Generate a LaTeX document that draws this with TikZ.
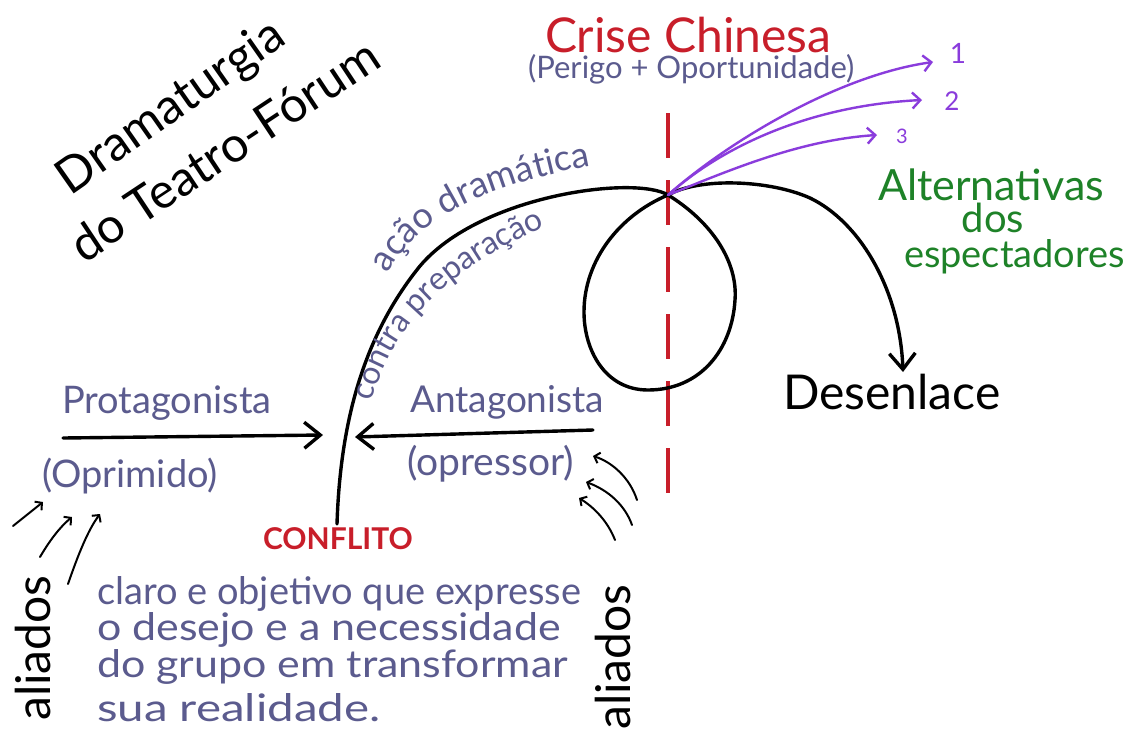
\documentclass[tikz,border=0pt]{standalone}
\usepackage{fontspec}
\setmainfont{Lato}
\usetikzlibrary{arrows.meta,decorations.text}
\definecolor{inkblue}{HTML}{5B5B8E}
\definecolor{crisered}{HTML}{C81E2A}
\definecolor{altgreen}{HTML}{1E8228}
\definecolor{altviolet}{HTML}{8A3CDC}
\newcommand{\fsz}[1]{\fontsize{#1}{#1}\selectfont}
\begin{document}
\begin{tikzpicture}[x=1pt,y=-1pt,
  every node/.style={inner sep=0pt, outer sep=0pt},
  ink/.style={text=inkblue},
  titletext/.style={text=black, font=\fsz{49}},
  bline/.style={line width=3.4pt, black, line cap=round, line join=round},
  bigbarb/.style={-{Straight Barb[length=16pt,width=26pt]}},
  vio/.style={line width=2.4pt, altviolet, line cap=round, -{Straight Barb[length=8pt,width=16pt]}},
  ally/.style={line width=2pt, black, line cap=round, -{Straight Barb[length=5pt,width=11pt]}}]
\useasboundingbox (0,0) rectangle (1125,729);
\fill[white] (0,0) rectangle (1125,729);

% title
\node[titletext, rotate=35, anchor=base west] (t1) at (70,196) {Dramaturgia};
\node[titletext, rotate=33.5, anchor=base west] (t2) at (84,264) {do Teatro-Fórum};

% crisis
\node[text=crisered, font=\fsz{48}, anchor=base west] (crise) at (545,52) {Crise Chinesa};
\node[ink, font=\fsz{31}, anchor=base west] (perigo) at (528,78) {(Perigo + Oportunidade)};

% red dashed line
\coordinate (rtop) at (668,113);
\coordinate (rbot) at (668,502);
\coordinate (X) at (668,195);
\draw[crisered, line width=3.5pt, dash pattern=on 45pt off 22pt] (rtop) -- (rbot);

% main curve
\coordinate (conf) at (337,524);
\coordinate (tipD) at (903,372);
\draw[bline, bigbarb] (conf) .. controls (340,430) and (360,340) .. (420,266)
   .. controls (480,195) and (635,175) .. (X)
   .. controls (712,222) and (738,262) .. (735,300)
   .. controls (732,350) and (700,390) .. (648,390)
   .. controls (605,390) and (584,350) .. (584,312)
   .. controls (584,260) and (620,215) .. (X)
   .. controls (700,177) and (770,180) .. (810,198)
   .. controls (860,222) and (900,290) .. (tipD);

% labels along the curve
\path[decorate, decoration={text along path, text={|\fsz{36}\color{inkblue}|ação dramática}}]
  (388,274) .. controls (417,218) and (492,174) .. (672,154);
\path[decorate, decoration={text along path, text={|\fsz{32}\color{inkblue}|contra preparação}}]
  (372,402) .. controls (390,330) and (445,258) .. (600,206);

% alternatives
\node[text=altviolet, font=\fsz{28}, anchor=base] (n1) at (958,63) {1};
\node[text=altviolet, font=\fsz{26}, anchor=base] (n2) at (952,110) {2};
\node[text=altviolet, font=\fsz{20}, anchor=base] (n3) at (902,143) {3};
\coordinate (a1) at (933,62);
\coordinate (a2) at (922,100);
\coordinate (a3) at (877,135);
\draw[vio] (X) .. controls (730,140) and (840,75) .. (a1);
\draw[vio] (X) .. controls (730,140) and (820,105) .. (a2);
\draw[vio] (X) .. controls (730,170) and (800,140) .. (a3);

\node[text=altgreen, font=\fsz{43}, anchor=base west] (alt) at (878,200) {Alternativas};
\node[text=altgreen, font=\fsz{40}, anchor=base] (dos) at (993,232) {dos};
\node[text=altgreen, font=\fsz{38}, anchor=base west] (esp) at (904,267) {espectadores};

\node[font=\fsz{48}, anchor=base west] (desen) at (783,409) {Desenlace};

% protagonist / antagonist
\node[ink, font=\fsz{38}, anchor=base west] (prot) at (62,413) {Protagonista};
\node[ink, font=\fsz{38}, anchor=base west] (oprim) at (42,487) {(Oprimido)};
\node[ink, font=\fsz{37}, anchor=base west] (antag) at (410,412) {Antagonista};
\node[ink, font=\fsz{39}, anchor=base west] (opress) at (407,475) {(opressor)};
\coordinate (ps) at (63,438);
\coordinate (pe) at (323,435);
\coordinate (as) at (593,430);
\coordinate (ae) at (355,437);
\draw[bline, bigbarb] (ps) -- (pe);
\draw[bline, bigbarb] (as) -- (ae);

% conflict
\node[text=crisered, font=\fsz{30}\bfseries, anchor=base west] (confl) at (263,549) {CONFLITO};
\node[ink, font=\fsz{38}, anchor=base west] (l1) at (97,604) {claro e objetivo que expresse};
\node[ink, font=\fsz{38}, anchor=base west, xscale=1.13] (l2) at (97,640) {o desejo e a necessidade};
\node[ink, font=\fsz{38}, anchor=base west, xscale=1.13] (l3) at (97,677) {do grupo em transformar};
\node[ink, font=\fsz{38}, anchor=base west, xscale=1.25] (l4) at (97,721) {sua realidade.};

% allies
\node[font=\fsz{48}, rotate=90] (al1) at (33,648) {aliados};
\node[font=\fsz{48}, rotate=90] (al2) at (613,657) {aliados};
\draw[ally] (13,526) -- (43,502);
\draw[ally] (40,557) .. controls (50,540) and (60,527) .. (72,517);
\draw[ally] (68,584) .. controls (78,555) and (88,530) .. (100,514);
\draw[ally] (637,500) .. controls (630,478) and (612,462) .. (593,456);
\draw[ally] (632,525) .. controls (625,505) and (608,490) .. (586,482);
\draw[ally] (615,540) .. controls (608,522) and (595,508) .. (579,498);
\end{tikzpicture}
\end{document}
